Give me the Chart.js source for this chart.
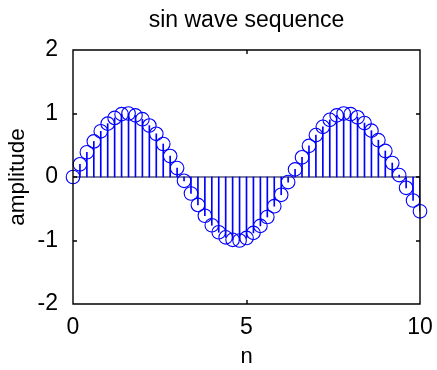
<!doctype html>
<html lang="en">

<head>
  <meta charset="utf-8">
  <script src="https://cdn.jsdelivr.net/npm/chart.js@4.4.0/dist/chart.umd.min.js"></script>
  <title>sin wave sequence</title>
  <style>
    body { margin: 0; background: #fff; }
    #wrap { width: 437px; height: 370px; }
  </style>
</head>

<body>
  <div id="wrap">
    <canvas id="myChart" width="437" height="370"></canvas>
  </div>
  <script>
    // sample positions and amplitudes
    const n = [0, 0.2, 0.4, 0.6, 0.8, 1.0, 1.2, 1.4, 1.6, 1.8,
      2.0, 2.2, 2.4, 2.6, 2.8, 3.0, 3.2, 3.4, 3.6, 3.8,
      4.0, 4.2, 4.4, 4.6, 4.8, 5.0, 5.2, 5.4, 5.6, 5.8,
      6.0, 6.2, 6.4, 6.6, 6.8, 7.0, 7.2, 7.4, 7.6, 7.8,
      8.0, 8.2, 8.4, 8.6, 8.8, 9.0, 9.2, 9.4, 9.6, 9.8, 10.0];
    const amplitude = [0, 0.20, 0.39, 0.56, 0.72, 0.84, 0.93, 0.99, 1.00, 0.97,
      0.91, 0.81, 0.68, 0.52, 0.33, 0.14, -0.06, -0.26, -0.44, -0.61,
      -0.76, -0.87, -0.95, -0.99, -1.00, -0.96, -0.88, -0.77, -0.63, -0.46,
      -0.28, -0.08, 0.12, 0.31, 0.49, 0.66, 0.79, 0.90, 0.97, 1.00,
      0.99, 0.94, 0.85, 0.73, 0.58, 0.41, 0.22, 0.03, -0.17, -0.37, -0.54];
    const xTicks = [0, 5, 10];
    const yTicks = [-2, -1, 0, 1, 2];

    const pts = n.map((v, i) => ({ x: v, y: amplitude[i] }));
    const font = 'Arial, "Liberation Sans", sans-serif';

    // box around the axes plus inward ticks
    const axesBox = {
      id: 'axesBox',
      afterDraw(chart) {
        const { ctx, chartArea: a, scales } = chart;
        const l = Math.round(a.left), r = Math.round(a.right);
        const t = Math.round(a.top), b = Math.round(a.bottom);
        ctx.save();
        ctx.strokeStyle = '#000000';
        ctx.lineWidth = 1.4;
        ctx.beginPath();
        ctx.moveTo(l, t); ctx.lineTo(r, t); ctx.lineTo(r, b); ctx.lineTo(l, b); ctx.closePath();
        xTicks.forEach(v => {
          const x = Math.round(scales.x.getPixelForValue(v));
          ctx.moveTo(x, b); ctx.lineTo(x, b - 4);
          ctx.moveTo(x, t); ctx.lineTo(x, t + 4);
        });
        yTicks.forEach(v => {
          const y = Math.round(scales.y.getPixelForValue(v));
          ctx.moveTo(l, y); ctx.lineTo(l + 4, y);
          ctx.moveTo(r, y); ctx.lineTo(r - 4, y);
        });
        ctx.stroke();
        ctx.restore();
      }
    };

    const config = {
      type: 'scatter',
      data: {
        datasets: [{
          type: 'line',
          label: 'baseline',
          data: [{ x: 0, y: 0 }, { x: 10, y: 0 }],
          borderColor: '#000033',
          borderWidth: 1.2,
          pointRadius: 0,
          order: 3
        }, {
          type: 'bar',
          label: 'stems',
          data: pts,
          backgroundColor: '#0000ff',
          borderWidth: 0,
          barThickness: 1,
          order: 2
        }, {
          type: 'scatter',
          label: 'samples',
          data: pts,
          clip: false,
          pointStyle: 'circle',
          pointRadius: 6.8,
          pointBorderWidth: 1.1,
          pointBorderColor: '#0000ff',
          pointBackgroundColor: 'rgba(0,0,0,0)',
          order: 1
        }]
      },
      options: {
        responsive: false,
        animation: false,
        layout: { padding: { left: 0, right: 17, top: 0, bottom: 0 } },
        plugins: {
          legend: { display: false },
          tooltip: { enabled: false },
          title: {
            display: true,
            fullSize: false,
            text: 'sin wave sequence',
            color: '#000',
            font: { family: font, size: 23, weight: 'normal' },
            padding: { top: 7, bottom: 15.4 }
          }
        },
        scales: {
          x: {
            type: 'linear',
            min: 0,
            max: 10,
            offset: false,
            afterBuildTicks: s => { s.ticks = xTicks.map(v => ({ value: v })); },
            afterFit: s => { s.height = 66; },
            grid: { display: false },
            border: { display: false },
            ticks: { color: '#000', padding: 2, maxRotation: 0, font: { family: font, size: 23 } },
            title: {
              display: true, text: 'n', color: '#000',
              font: { family: font, size: 22 }, padding: { top: 1, bottom: 0 }
            }
          },
          y: {
            type: 'linear',
            min: -2,
            max: 2,
            afterBuildTicks: s => { s.ticks = yTicks.map(v => ({ value: v })); },
            afterFit: s => { s.width = 73; },
            grid: { display: false },
            border: { display: false },
            ticks: { color: '#000', padding: 7, font: { family: font, size: 23 } },
            title: {
              display: true, text: 'amplitude', color: '#000',
              font: { family: font, size: 22.5 }, padding: { top: 4, bottom: 2 }
            }
          }
        }
      },
      plugins: [axesBox]
    };

    const ctx = document.getElementById('myChart').getContext('2d');
    const myChart = new Chart(ctx, config);
  </script>
</body>

</html>
